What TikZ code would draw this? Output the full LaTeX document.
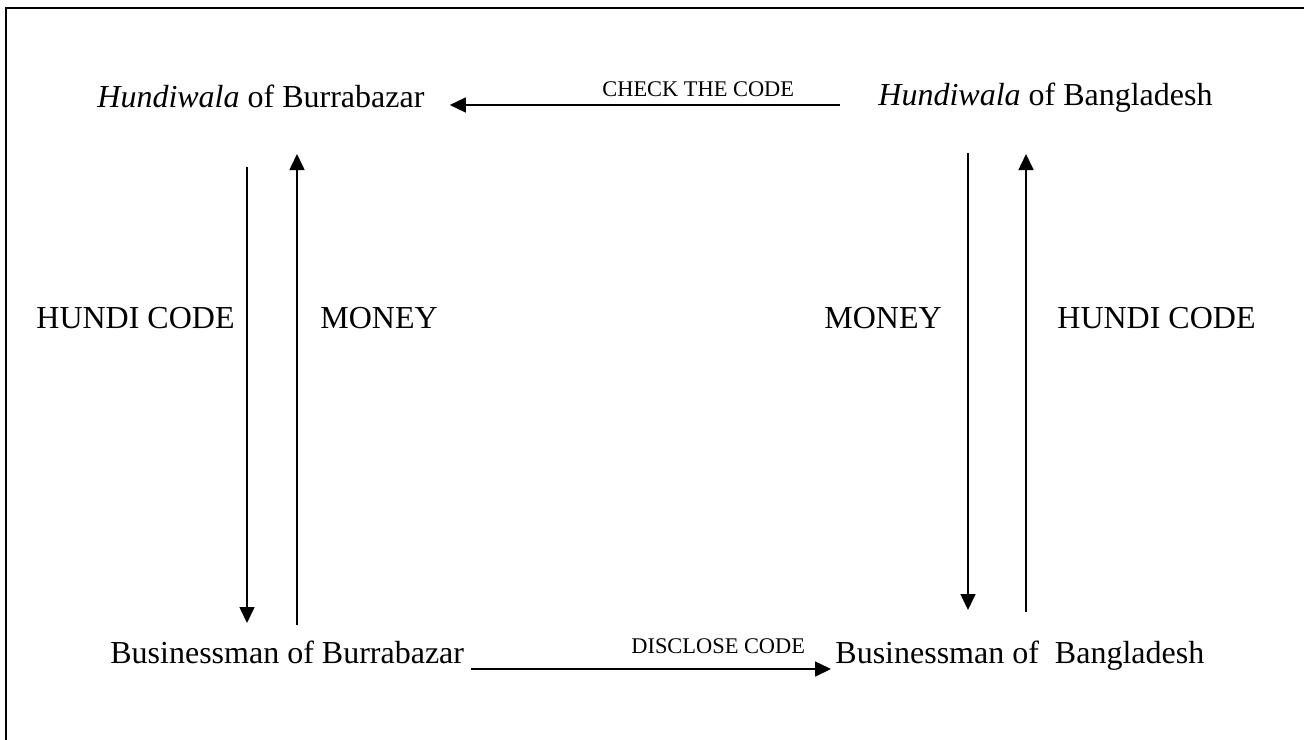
\documentclass[tikz,border=0pt]{standalone}
\usepackage{fontspec}
\setmainfont{Liberation Serif}
\usetikzlibrary{arrows.meta, calc, positioning}

\begin{document}
\begin{tikzpicture}[
    x=0.5pt, y=-0.5pt,
    >={Triangle[length=8pt, width=7.5pt]},
    partytxt/.style={font=\fontsize{16}{19}\selectfont, inner sep=0pt, anchor=base west},
    flowtxt/.style={font=\fontsize{16}{19}\selectfont, inner sep=0pt, anchor=base west},
    codelbl/.style={font=\fontsize{11.2}{13}\selectfont, inner sep=0pt, anchor=base west},
    flow/.style={black, ->, line width=0.8pt},
    frame/.style={black, line width=1.1pt}
]

% ---------- page and frame (1px = 0.5pt) ----------
\useasboundingbox (0,0) rectangle (1304,739);
\draw[frame] (6,760) -- (6,8) -- (1320,8);

% ---------- the four parties ----------
\node[partytxt] (hwBur) at (97,107) {\textit{Hundiwala} of Burrabazar};
\node[partytxt] (hwBan) at (878,105) {\textit{Hundiwala} of Bangladesh};
\node[partytxt] (bmBur) at (110,663) {Businessman of Burrabazar};
\node[partytxt] (bmBan) at (835,663) {Businessman of\ \ Bangladesh};

% ---------- x positions of the vertical arrows ----------
\coordinate (dnL) at (247,0);
\coordinate (upL) at (297,0);
\coordinate (dnR) at (968,0);
\coordinate (upR) at (1026,0);

% ---------- top: check the code ----------
\draw[flow, shorten <=19pt, shorten >=12.5pt] (hwBan.base west) -- (hwBur.east |- hwBan.base);
\node[codelbl] (check) at (602,96) {CHECK THE CODE};

% ---------- bottom: disclose code ----------
\draw[flow, shorten <=3.5pt, shorten >=2pt]
    ($(bmBur.base east)+(0,6)$) -- ($(bmBan.base west)+(0,6)$);
\node[codelbl] (disclose) at (631,653) {DISCLOSE CODE};

% ---------- left side: Burrabazar ----------
\draw[flow] ($(hwBur.base -| dnL)+(0,60)$) -- ($(bmBur.base -| dnL)+(0,-40)$);
\draw[flow] ($(bmBur.base -| upL)+(0,-38)$) -- ($(hwBur.base -| upL)+(0,47)$);
\node[flowtxt] (codeL) at (36,328) {HUNDI CODE};
\node[flowtxt] (moneyL) at (320,328) {MONEY};

% ---------- right side: Bangladesh ----------
\draw[flow] ($(hwBan.base -| dnR)+(0,48)$) -- ($(bmBan.base -| dnR)+(0,-53)$);
\draw[flow] ($(bmBan.base -| upR)+(0,-51)$) -- ($(hwBan.base -| upR)+(0,49)$);
\node[flowtxt] (moneyR) at (824,328) {MONEY};
\node[flowtxt] (codeR) at (1057,328) {HUNDI CODE};

\end{tikzpicture}
\end{document}
